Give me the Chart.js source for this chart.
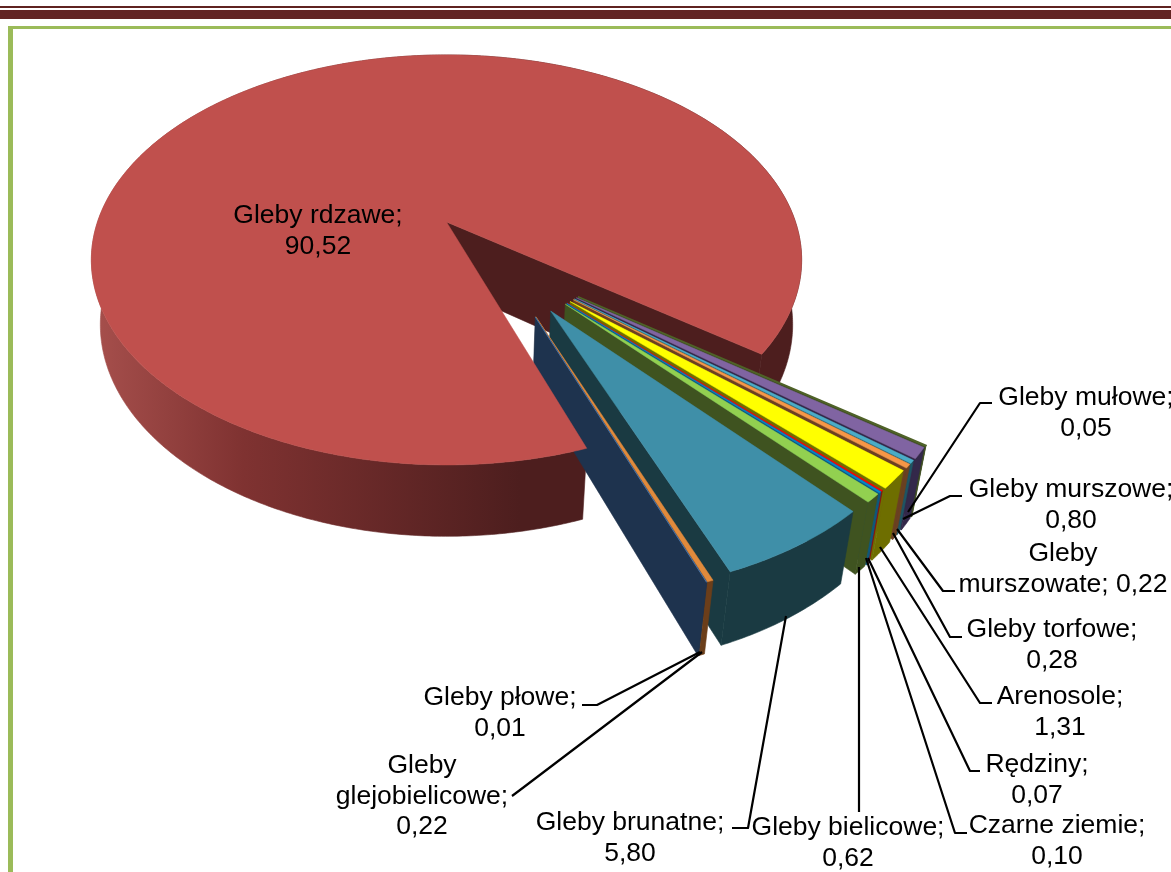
<!DOCTYPE html>
<html><head><meta charset="utf-8">
<style>
html,body{margin:0;padding:0;background:#fff;overflow:hidden;width:1171px;height:872px}
#s1,#s2,#g1,#g2{position:absolute}
#s1{left:0;top:6px;width:1171px;height:2px;background:#5F2320}
#s2{left:0;top:10px;width:1171px;height:9px;background:#622423}
#g1{left:8px;top:26px;width:1163px;height:3px;background:#9BBB59}
#g2{left:8px;top:26px;width:5px;height:846px;background:#9BBB59}
canvas{position:absolute;left:0;top:0}
</style>
<script src="https://cdn.jsdelivr.net/npm/chart.js@4"></script>
</head><body>
<div id="s1"></div><div id="s2"></div><div id="g1"></div><div id="g2"></div>
<canvas id="c" width="1171" height="872"></canvas>
<script>
const categories=["Gleby mułowe","Gleby murszowe","Gleby murszowate","Gleby torfowe","Arenosole","Rędziny","Czarne ziemie","Gleby bielicowe","Gleby brunatne","Gleby glejobielicowe","Gleby płowe","Gleby rdzawe"];
const values=[0.05,0.80,0.22,0.28,1.31,0.07,0.10,0.62,5.80,0.22,0.01,90.52];
const topColors=["#4F6228","#8064A2","#4BACC6","#F79646","#FFFF00","#FF0000","#0088CC","#92D050","#3F8FA8","#E08A3C","#4F81BD","#C0504D"];
const sideColors=["#3A4A1C","#33284A","#1E5563","#6B4020","#6E6E00","#8A1010","#0A5A80","#3F5320","#1A3A42","#6B3E1A","#1E334E","#4D1E1E"];
const explodeFlags=[1,1,1,1,1,1,1,1,1,1,1,0];
const labelLines=[["Gleby mułowe;","0,05"],["Gleby murszowe;","0,80"],["Gleby","murszowate; 0,22"],["Gleby torfowe;","0,28"],["Arenosole;","1,31"],["Rędziny;","0,07"],["Czarne ziemie;","0,10"],["Gleby bielicowe;","0,62"],["Gleby brunatne;","5,80"],["Gleby","glejobielicowe;","0,22"],["Gleby płowe;","0,01"],["Gleby rdzawe;","90,52"]];
const labelAt=[[1086,398],[1071,490],[1063,554],[1052,630],[1060,697],[1037,765],[1057,826],[848,828],[630,823],[422,766],[500,698],[318,216]];
const leaders=[[[992,403],[980,403],[908,512]],[[962,496],[950,496],[903,519]],[[955,591],[943,591],[897,529]],[[962,637],[950,637],[893,533]],[[992,703],[980,703],[880,547]],[[980,771],[970,771],[868,558]],[[967,833],[955,833],[866,558]],[[859,812],[859,567]],[[732,828],[748,828],[786,616]],[[512,796],[524,787],[702,652]],[[582,705],[597,705],[700,652]],null];

const cam={cx:446.5,cy:222,sx:349,sy:198,k:0.185,m:0.025,h:66};
const explodeAxis=53.5*Math.PI/180,explodeSpread=0.5,explodedScale=0.976;
function project(u,v,z){const w=1-cam.k*v+cam.m*z;return [cam.cx+cam.sx*u/w,cam.cy+(cam.sy*v+cam.h*z)/w];}

function pathOf(ctx,pts){ctx.beginPath();pts.forEach((p,i)=>i?ctx.lineTo(p[0],p[1]):ctx.moveTo(p[0],p[1]));ctx.closePath();}
function geom(arc){
  const R=arc.outerRadius,s=arc.startAngle,e=arc.endAngle,mid=(s+e)/2;
  const off=(arc.options.offset||0)/R,scale=off?explodedScale:1;
  const dir=explodeAxis+(mid-explodeAxis)*explodeSpread;
  const ox=Math.cos(dir)*off,oy=Math.sin(dir)*off;
  const n=Math.max(2,Math.ceil((e-s)/0.01));
  const rim=[];for(let j=0;j<=n;j++){const a=s+(e-s)*j/n;rim.push([ox+scale*Math.cos(a),oy+scale*Math.sin(a)]);}
  return {ox,oy,rim};
}
function drawBody(ctx,arc,i){
  const {ox,oy,rim}=geom(arc);
  const sideFill=i===11?(()=>{const g=ctx.createLinearGradient(95,0,520,0);g.addColorStop(0,"#A64F4C");g.addColorStop(0.35,"#7F3231");g.addColorStop(1,"#4D1E1E");return g;})():sideColors[i];
  ctx.fillStyle=sideFill;ctx.strokeStyle=sideFill;ctx.lineWidth=0.6;
  pathOf(ctx,rim.map(p=>project(p[0],p[1],0)).concat(rim.slice().reverse().map(p=>project(p[0],p[1],1))));ctx.fill();ctx.stroke();
  const wallEnd=rim[rim.length-1];
  ctx.fillStyle=sideColors[i];ctx.strokeStyle=sideColors[i];
  pathOf(ctx,[project(ox,oy,0),project(wallEnd[0],wallEnd[1],0),project(wallEnd[0],wallEnd[1],1),project(ox,oy,1)]);ctx.fill();ctx.stroke();
}
function drawTop(ctx,arc,i){
  const {ox,oy,rim}=geom(arc);
  ctx.fillStyle=topColors[i];ctx.strokeStyle=topColors[i];ctx.lineWidth=i===0?1.4:0.5;
  pathOf(ctx,[project(ox,oy,0)].concat(rim.map(p=>project(p[0],p[1],0))));ctx.fill();ctx.stroke();
}
const pie3d={id:"pie3d",
  beforeDatasetDraw(chart){
    const ctx=chart.ctx,arcs=chart.getDatasetMeta(0).data;
    ctx.save();
    drawBody(ctx,arcs[11],11);
    for(let i=0;i<11;i++){drawBody(ctx,arcs[i],i);drawTop(ctx,arcs[i],i);}
    drawTop(ctx,arcs[11],11);
    ctx.restore();
    return false;
  },
  afterDraw(chart){
    const ctx=chart.ctx;ctx.save();
    ctx.strokeStyle="#000";ctx.lineWidth=2.2;ctx.lineJoin="round";
    leaders.forEach(l=>{if(!l)return;ctx.beginPath();l.forEach((p,i)=>i?ctx.lineTo(p[0],p[1]):ctx.moveTo(p[0],p[1]));ctx.stroke();});
    ctx.fillStyle="#000";ctx.font='26.5px "Liberation Sans"';ctx.textAlign="center";ctx.textBaseline="middle";
    labelLines.forEach((ls,i)=>ls.forEach((t,j)=>ctx.fillText(t,labelAt[i][0],labelAt[i][1]+j*30.5)));
    ctx.restore();
  }
};
new Chart(document.getElementById("c"),{type:"pie",
  data:{labels:categories,datasets:[{data:values,backgroundColor:topColors,borderWidth:0,offset:explodeFlags.map(f=>f*174)}]},
  options:{responsive:false,animation:false,rotation:126.5,events:[],
    plugins:{legend:{display:false},tooltip:{enabled:false}}},
  plugins:[pie3d]});
</script>
</body></html>
